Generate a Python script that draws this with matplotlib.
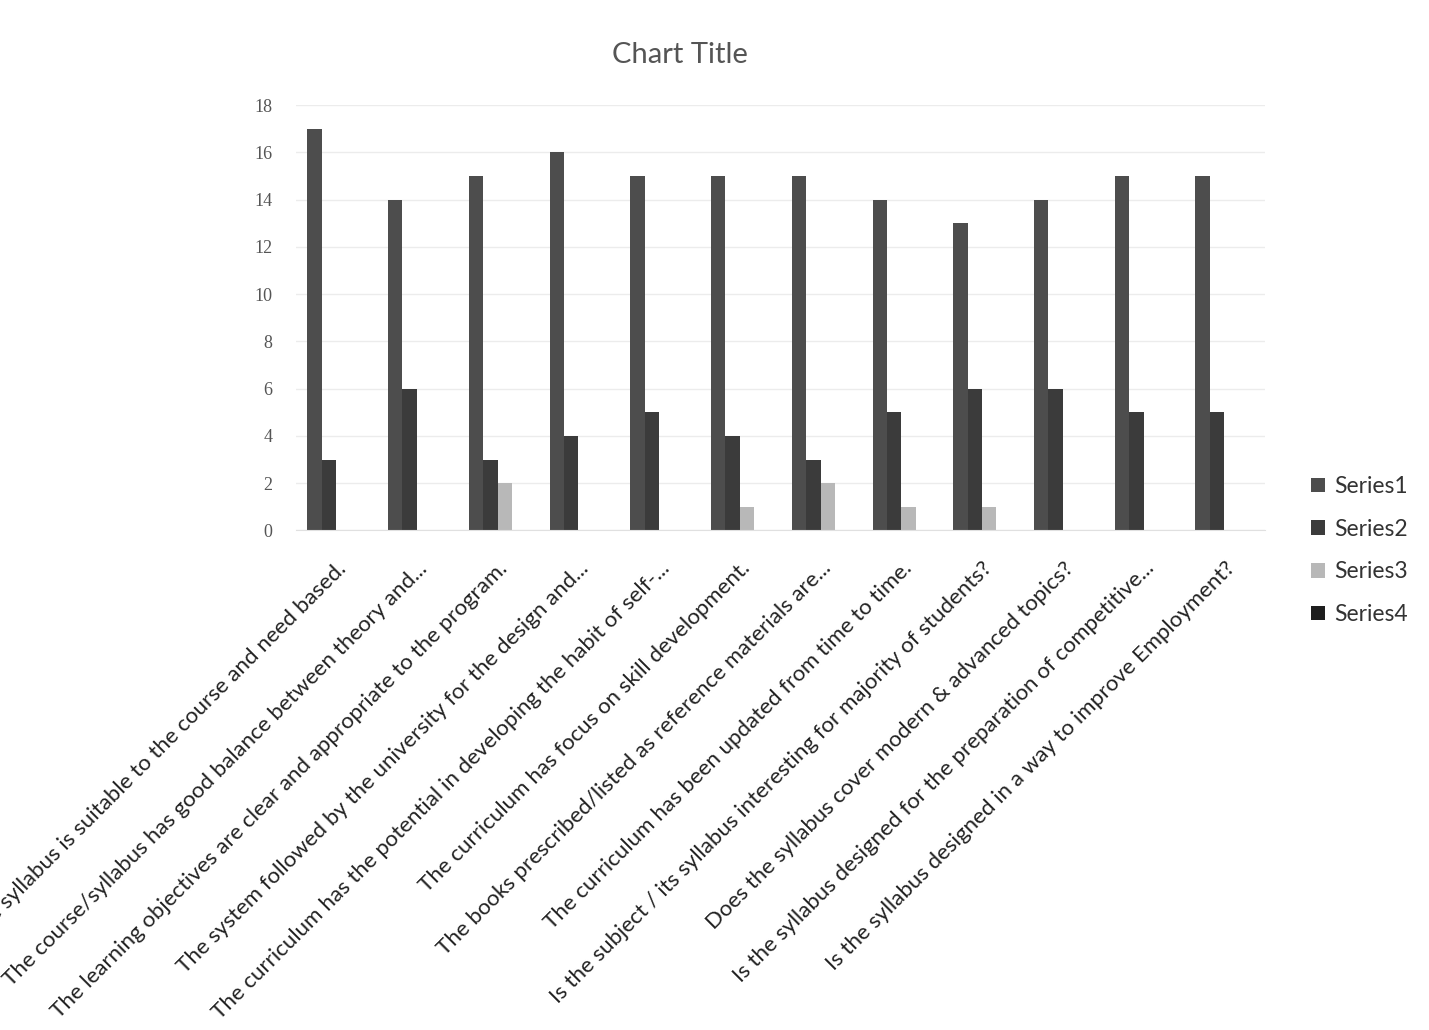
import matplotlib
matplotlib.use("Agg")
import matplotlib.pyplot as plt
import numpy as np

categories = [
    "The syllabus is suitable to the course and need based.",
    "The course/syllabus has good balance between theory and...",
    "The learning objectives are clear and appropriate to the program.",
    "The system followed by the university for the design and...",
    "The curriculum has the potential in developing the habit of self-...",
    "The curriculum has focus on skill development.",
    "The books prescribed/listed as reference materials are...",
    "The curriculum has been updated from time to time.",
    "Is the subject / its syllabus interesting for majority of students?",
    "Does the syllabus cover modern & advanced topics?",
    "Is the syllabus designed for the preparation of competitive...",
    "Is the syllabus designed in a way to improve Employment?",
]
series1 = [17, 14, 15, 16, 15, 15, 15, 14, 13, 14, 15, 15]
series2 = [3, 6, 3, 4, 5, 4, 3, 5, 6, 6, 5, 5]
series3 = [0, 0, 2, 0, 0, 1, 2, 1, 1, 0, 0, 0]
series4 = [0, 0, 0, 0, 0, 0, 0, 0, 0, 0, 0, 0]
series_names = ["Series1", "Series2", "Series3", "Series4"]
yticks = [0, 2, 4, 6, 8, 10, 12, 14, 16, 18]

colors = ["#4d4d4d", "#3b3b3b", "#b8b8b8", "#1e1e1e"]

fig = plt.figure(figsize=(14.29, 10.30), dpi=100)
ax = fig.add_axes([0.207, 0.485, 0.678, 0.413])

x = np.arange(len(categories))
w = 1 / 5.6
all_series = [series1, series2, series3, series4]
handles = []
for i, (vals, c, name) in enumerate(zip(all_series, colors, series_names)):
    b = ax.bar(x + (i - 1.5) * w, vals, width=w, color=c, label=name)
    handles.append(b)

ax.set_xlim(-0.5, len(categories) - 0.5)
ax.set_ylim(0, 18)
ax.set_yticks(yticks)
ax.set_yticklabels([str(t) for t in yticks], fontfamily="Liberation Serif",
                   fontsize=13, color="#555555")
ax.tick_params(axis="y", length=0, pad=17)
ax.set_xticks(x)
ax.set_xticklabels(categories, rotation=45, ha="right", va="top",
                   rotation_mode="anchor", fontfamily="Lato", fontsize=16,
                   color="#222222")
ax.tick_params(axis="x", length=0, pad=20)
ax.yaxis.grid(True, color="#ececec", linewidth=1)
ax.set_axisbelow(True)
for s in ["top", "right", "left"]:
    ax.spines[s].set_visible(False)
ax.spines["bottom"].set_color("#e0e0e0")

fig.text(0.476, 0.947, "Chart Title", ha="center", va="center",
         fontfamily="Lato", fontsize=21, color="#555555")

fig.legend(handles=handles, labels=series_names, loc="upper left",
           bbox_to_anchor=(0.903, 0.558), frameon=False,
           prop={"family": "Lato", "size": 16.5}, labelcolor="#333333",
           handlelength=0.6, handleheight=0.6, handletextpad=0.4,
           labelspacing=0.95)

fig.savefig("out.png", dpi=100, facecolor="white")
